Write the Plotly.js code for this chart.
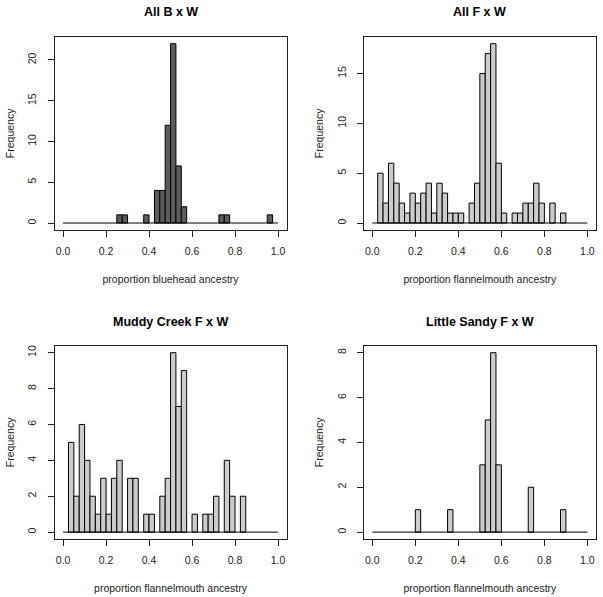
<!DOCTYPE html>
<html>
<head>
<meta charset="utf-8">
<script src="https://cdn.plot.ly/plotly-3.0.1.min.js"></script>
<style>html,body{margin:0;padding:0;background:#fff;}#chart{width:603px;height:597px;}</style>
</head>
<body>
<div id="chart"></div>
<script>
// Histogram data (bin left edges of non-empty bins and their counts), bin width 0.025
var BIN_WIDTH = 0.025;
var BREAK_MIN = 0.0;
var BREAK_MAX = 1.0;

var titles = ["All B x W", "All F x W", "Muddy Creek F x W", "Little Sandy F x W"];
var xTitles = ["proportion bluehead ancestry", "proportion flannelmouth ancestry",
               "proportion flannelmouth ancestry", "proportion flannelmouth ancestry"];

var allBW_bins   = [0.25, 0.275, 0.375, 0.425, 0.45, 0.475, 0.5, 0.525, 0.55, 0.725, 0.75, 0.95];
var allBW_counts = [1, 1, 1, 4, 4, 12, 22, 7, 2, 1, 1, 1];

var allFW_bins   = [0.025, 0.05, 0.075, 0.1, 0.125, 0.15, 0.175, 0.2, 0.225, 0.25, 0.275, 0.3, 0.325, 0.35, 0.375, 0.4,
                    0.45, 0.475, 0.5, 0.525, 0.55, 0.575, 0.6,
                    0.65, 0.675, 0.7, 0.725, 0.75, 0.775, 0.825, 0.875];
var allFW_counts = [5, 2, 6, 4, 2, 1, 3, 2, 3, 4, 1, 4, 3, 1, 1, 1,
                    2, 4, 15, 17, 18, 6, 1,
                    1, 1, 2, 2, 4, 2, 2, 1];

var muddy_bins   = [0.025, 0.05, 0.075, 0.1, 0.125, 0.15, 0.175, 0.2, 0.225, 0.25,
                    0.3, 0.325, 0.375, 0.4,
                    0.45, 0.475, 0.5, 0.525, 0.55, 0.6,
                    0.65, 0.675, 0.7, 0.75, 0.775, 0.825];
var muddy_counts = [5, 2, 6, 4, 2, 1, 3, 1, 3, 4,
                    3, 3, 1, 1,
                    2, 3, 10, 7, 9, 1,
                    1, 1, 2, 4, 2, 2];

var sandy_bins   = [0.2, 0.35, 0.5, 0.525, 0.55, 0.575, 0.725, 0.875];
var sandy_counts = [1, 1, 3, 5, 8, 3, 2, 1];

var yTickSteps = [5, 5, 2, 2];

var W = 603, H = 597;
var FONT = "Liberation Sans, Arial, Helvetica, sans-serif";
var FS = 10.5;
var panels = [
  {bins: allBW_bins,  counts: allBW_counts,  fill: "#5c5c5c", px: [54.5, 286.6], py: [36.5, 230.2]},
  {bins: allFW_bins,  counts: allFW_counts,  fill: "#cccccc", px: [363.7, 596.0], py: [36.5, 230.2]},
  {bins: muddy_bins,  counts: muddy_counts,  fill: "#cccccc", px: [54.5, 286.6], py: [345.5, 539.3]},
  {bins: sandy_bins,  counts: sandy_counts,  fill: "#cccccc", px: [363.7, 596.0], py: [345.5, 539.3]}
];

var data = [];
var layout = {
  width: W, height: H,
  margin: {l: 0, r: 0, t: 0, b: 0},
  paper_bgcolor: "#ffffff",
  plot_bgcolor: "#ffffff",
  showlegend: false,
  font: {family: FONT, color: "#1a1a1a", size: FS},
  annotations: []
};

panels.forEach(function (p, i) {
  var n = i + 1;
  var xa = "x" + (n === 1 ? "" : n), ya = "y" + (n === 1 ? "" : n);
  var xk = "xaxis" + (n === 1 ? "" : n), yk = "yaxis" + (n === 1 ? "" : n);
  var maxC = Math.max.apply(null, p.counts);
  var pad = 0.04;
  data.push({
    type: "bar", x: p.bins, y: p.counts, xaxis: xa, yaxis: ya,
    width: BIN_WIDTH, offset: 0,
    marker: {color: p.fill, line: {color: "#000000", width: 1}},
    hoverinfo: "x+y"
  });
  data.push({
    type: "scatter", mode: "lines", x: [BREAK_MIN, BREAK_MAX], y: [0, 0],
    xaxis: xa, yaxis: ya, line: {color: "#000000", width: 1}, hoverinfo: "skip"
  });
  var xr = [BREAK_MIN - pad * (BREAK_MAX - BREAK_MIN), BREAK_MAX + pad * (BREAK_MAX - BREAK_MIN)];
  layout[xk] = {
    domain: [p.px[0] / W, p.px[1] / W],
    anchor: ya,
    range: xr, autorange: false,
    tickvals: [0, 0.2, 0.4, 0.6, 0.8, 1.0], tickformat: ".1f",
    ticks: "outside", ticklen: 6, tickcolor: "#222", tickwidth: 1,
    ticklabelstandoff: 5,
    showline: true, mirror: true, linecolor: "#222", linewidth: 1,
    showgrid: false, zeroline: false,
    tickfont: {family: FONT, size: FS, color: "#222"},
    title: {text: xTitles[i], font: {family: FONT, size: FS, color: "#222"}, standoff: 19},
    automargin: false, fixedrange: true
  };
  layout[yk] = {
    domain: [1 - p.py[1] / H, 1 - p.py[0] / H],
    anchor: xa,
    range: [-pad * maxC, maxC * (1 + pad)], autorange: false,
    dtick: yTickSteps[i], tick0: 0,
    ticks: "outside", ticklen: 6, tickcolor: "#222", tickwidth: 1,
    tickangle: -90, ticklabelstandoff: 7,
    showline: true, mirror: true, linecolor: "#222", linewidth: 1,
    showgrid: false, zeroline: false,
    tickfont: {family: FONT, size: FS, color: "#222"},
    title: {text: "Frequency", font: {family: FONT, size: FS, color: "#222"}, standoff: 9},
    automargin: false, fixedrange: true
  };
  layout.annotations.push({
    text: "<b>" + titles[i] + "</b>",
    xref: "paper", yref: "paper",
    x: ((p.px[0] + p.px[1]) / 2) / W, y: 1 - (p.py[0] - 24) / H,
    xanchor: "center", yanchor: "middle", showarrow: false,
    font: {family: FONT, size: 12.5, color: "#000"}
  });
});

Plotly.newPlot("chart", data, layout, {displayModeBar: false, staticPlot: true});
</script>
</body>
</html>
